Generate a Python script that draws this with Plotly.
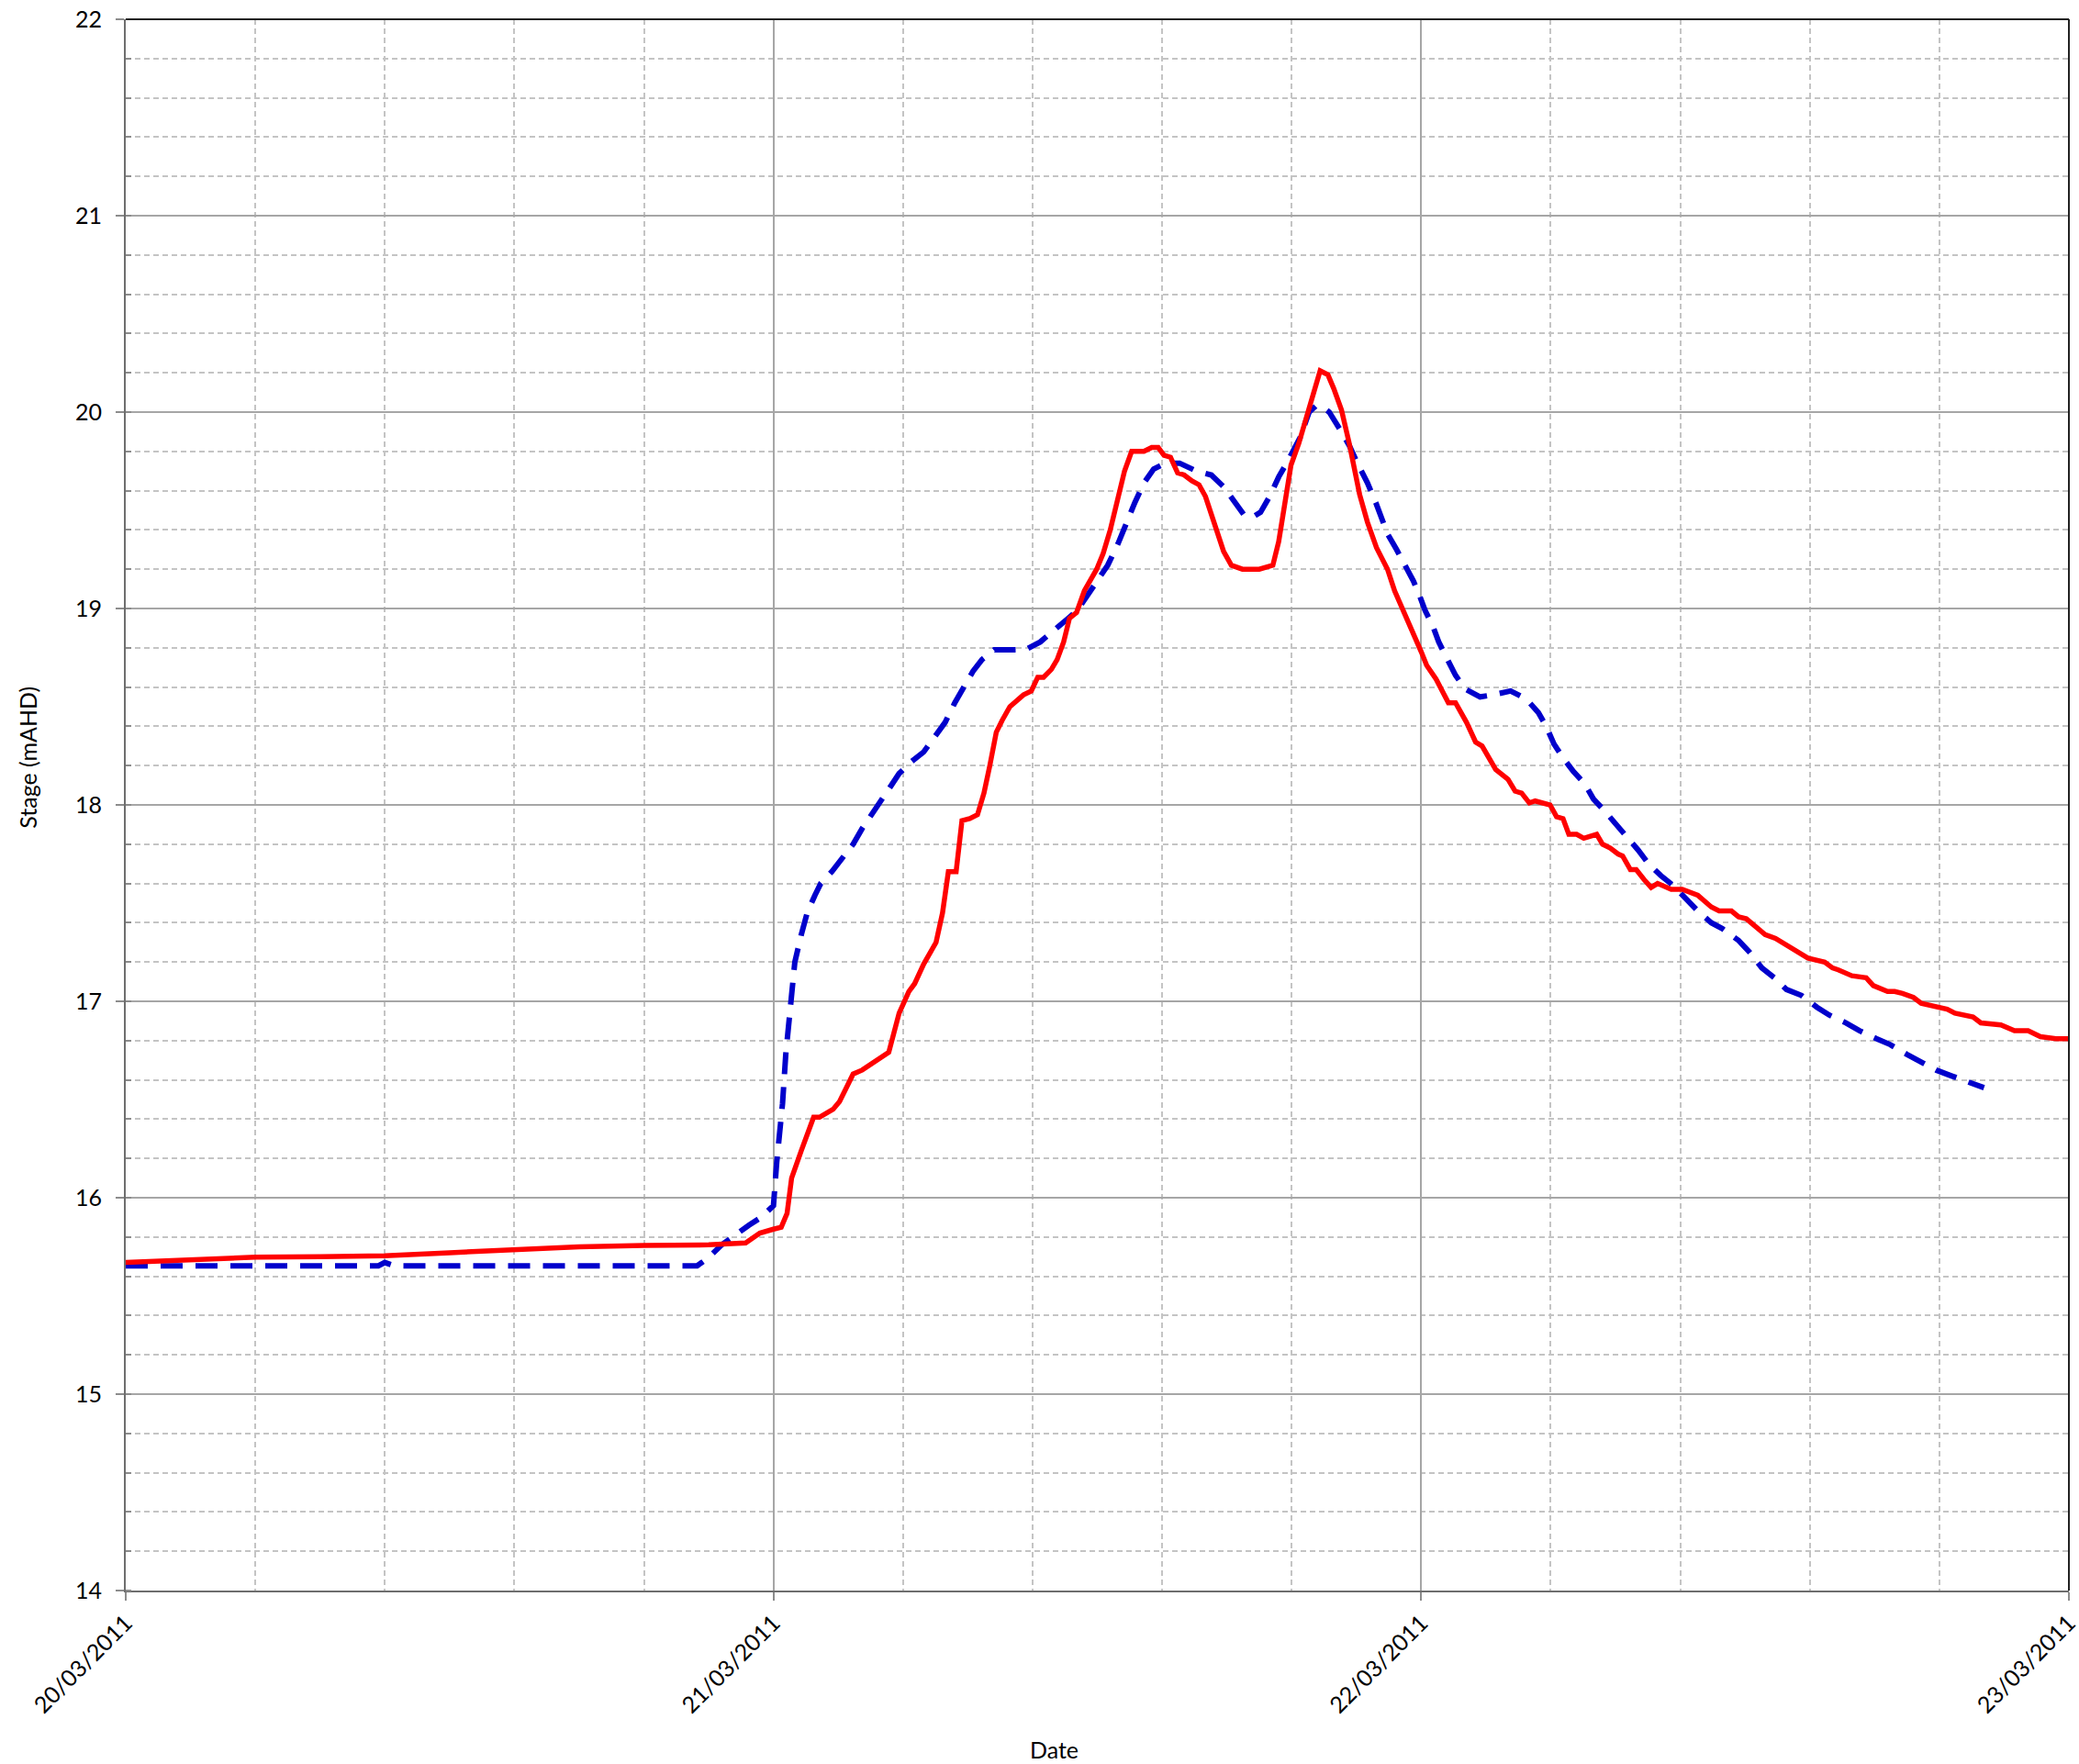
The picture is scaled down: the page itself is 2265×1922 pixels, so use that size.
import pandas as pd
import plotly.graph_objects as go

# Observed stage (red, solid) - day offset from 20/03/2011 and stage (mAHD)
red_days = [0.0, 0.1, 0.2, 0.3, 0.4, 0.5, 0.6, 0.7, 0.8, 0.9, 0.957, 0.979, 1.0, 1.012, 1.021, 1.028,
            1.043, 1.062, 1.071, 1.092, 1.102, 1.123, 1.137, 1.161, 1.178, 1.194, 1.209, 1.218, 1.232,
            1.251, 1.261, 1.270, 1.282, 1.291, 1.303, 1.315, 1.325, 1.334, 1.344, 1.353, 1.365, 1.386,
            1.398, 1.408, 1.417, 1.429, 1.438, 1.448, 1.457, 1.468, 1.480, 1.499, 1.509, 1.520, 1.532,
            1.542, 1.553, 1.572, 1.584, 1.594, 1.603, 1.613, 1.624, 1.634, 1.646, 1.657, 1.667, 1.676,
            1.686, 1.695, 1.707, 1.724, 1.750, 1.759, 1.771, 1.780, 1.790, 1.799, 1.811, 1.825, 1.837,
            1.844, 1.856, 1.865, 1.877, 1.889, 1.905, 1.917, 1.931, 1.948, 1.959, 1.974, 1.988, 2.0,
            2.0085, 2.023, 2.042, 2.053, 2.070, 2.084, 2.094, 2.103, 2.115, 2.134, 2.145, 2.155, 2.167,
            2.176, 2.190, 2.199, 2.209, 2.219, 2.228, 2.240, 2.251, 2.271, 2.280, 2.292, 2.304, 2.311,
            2.323, 2.332, 2.344, 2.355, 2.365, 2.386, 2.403, 2.427, 2.448, 2.460, 2.479, 2.490, 2.502,
            2.531, 2.547, 2.568, 2.583, 2.597, 2.623, 2.635, 2.644, 2.665, 2.687, 2.698, 2.720, 2.731,
            2.743, 2.760, 2.772, 2.795, 2.812, 2.824, 2.852, 2.864, 2.895, 2.916, 2.937, 2.956, 2.980, 3.0]
red_stage = [15.67, 15.685, 15.697, 15.70, 15.705, 15.72, 15.736, 15.75, 15.757, 15.76, 15.77, 15.82, 15.84,
             15.85, 15.92, 16.10, 16.24, 16.41, 16.41, 16.45, 16.49, 16.63, 16.65, 16.70, 16.74, 16.94,
             17.05, 17.09, 17.19, 17.30, 17.45, 17.66, 17.66, 17.92, 17.93, 17.95, 18.06, 18.20, 18.37,
             18.43, 18.50, 18.56, 18.58, 18.65, 18.65, 18.69, 18.74, 18.83, 18.95, 18.98, 19.09, 19.20,
             19.28, 19.40, 19.56, 19.70, 19.80, 19.80, 19.82, 19.82, 19.78, 19.77, 19.69, 19.68, 19.65,
             19.63, 19.57, 19.48, 19.37, 19.29, 19.22, 19.20, 19.20, 19.21, 19.22, 19.34, 19.54, 19.73,
             19.84, 20.00, 20.14, 20.21, 20.19, 20.12, 20.01, 19.84, 19.58, 19.44, 19.31, 19.20, 19.09,
             18.98, 18.88, 18.78, 18.71, 18.64, 18.52, 18.52, 18.42, 18.32, 18.30, 18.25, 18.18, 18.13,
             18.07, 18.06, 18.01, 18.02, 18.01, 18.0, 17.94, 17.93, 17.85, 17.85, 17.83, 17.85, 17.80,
             17.78, 17.75, 17.74, 17.67, 17.67, 17.62, 17.58, 17.60, 17.57, 17.57, 17.54, 17.48, 17.46,
             17.46, 17.43, 17.42, 17.34, 17.32, 17.28, 17.25, 17.22, 17.20, 17.17, 17.16, 17.13, 17.12,
             17.08, 17.05, 17.05, 17.04, 17.02, 16.99, 16.97, 16.96, 16.94, 16.92, 16.89, 16.88, 16.85,
             16.85, 16.82, 16.81, 16.81]

# Modelled stage (blue, dashed)
blue_days = [0.0, 0.39, 0.40, 0.415, 0.882, 0.898, 0.920, 0.936, 0.962, 0.981, 1.0, 1.005, 1.0095, 1.014,
             1.019, 1.024, 1.028, 1.033, 1.043, 1.052, 1.064, 1.073, 1.090, 1.107, 1.123, 1.137, 1.152,
             1.166, 1.180, 1.194, 1.213, 1.232, 1.251, 1.265, 1.280, 1.294, 1.308, 1.322, 1.341, 1.360,
             1.389, 1.412, 1.431, 1.455, 1.469, 1.483, 1.502, 1.516, 1.532, 1.546, 1.558, 1.572, 1.587,
             1.605, 1.627, 1.653, 1.676, 1.695, 1.712, 1.728, 1.742, 1.752, 1.766, 1.780, 1.794, 1.813,
             1.827, 1.837, 1.846, 1.858, 1.875, 1.889, 1.903, 1.917, 1.931, 1.948, 1.962, 1.974, 1.988,
             1.997, 2.006, 2.018, 2.027, 2.039, 2.053, 2.068, 2.091, 2.110, 2.138, 2.162, 2.181, 2.193,
             2.205, 2.219, 2.235, 2.252, 2.266, 2.283, 2.301, 2.318, 2.335, 2.351, 2.370, 2.389, 2.408,
             2.427, 2.448, 2.465, 2.490, 2.507, 2.526, 2.545, 2.564, 2.587, 2.611, 2.630, 2.656, 2.677,
             2.703, 2.724, 2.750, 2.772, 2.795, 2.819, 2.847, 2.869]
blue_stage = [15.653, 15.653, 15.67, 15.653, 15.653, 15.69, 15.76, 15.80, 15.86, 15.90, 15.96, 16.18, 16.31,
              16.48, 16.73, 16.91, 17.09, 17.20, 17.34, 17.45, 17.54, 17.60, 17.66, 17.73, 17.80, 17.88,
              17.95, 18.02, 18.09, 18.16, 18.22, 18.27, 18.35, 18.42, 18.52, 18.60, 18.68, 18.74, 18.79,
              18.79, 18.79, 18.83, 18.88, 18.95, 18.99, 19.06, 19.16, 19.22, 19.33, 19.45, 19.54, 19.64,
              19.71, 19.74, 19.74, 19.70, 19.68, 19.62, 19.54, 19.47, 19.47, 19.49, 19.57, 19.67, 19.75,
              19.87, 20.00, 20.03, 20.03, 20.00, 19.91, 19.83, 19.73, 19.64, 19.53, 19.38, 19.30, 19.23,
              19.14, 19.07, 18.99, 18.91, 18.83, 18.75, 18.66, 18.59, 18.55, 18.56, 18.58, 18.54, 18.47,
              18.40, 18.31, 18.24, 18.17, 18.11, 18.03, 17.97, 17.90, 17.84, 17.77, 17.70, 17.64, 17.59,
              17.52, 17.46, 17.40, 17.37, 17.31, 17.25, 17.17, 17.12, 17.06, 17.03, 16.97, 16.93, 16.89,
              16.85, 16.81, 16.78, 16.73, 16.69, 16.65, 16.62, 16.59, 16.56]

start = pd.Timestamp("2011-03-20")
red_x = start + pd.to_timedelta(red_days, unit="D")
blue_x = start + pd.to_timedelta(blue_days, unit="D")

FONT = "Lato, 'Open Sans', sans-serif"

fig = go.Figure()
fig.add_trace(go.Scatter(x=blue_x, y=blue_stage, mode="lines",
                         line=dict(color="#0000cc", width=6, dash="24px,14px"), showlegend=False))
fig.add_trace(go.Scatter(x=red_x, y=red_stage, mode="lines",
                         line=dict(color="#ff0000", width=5.5), showlegend=False))

fig.update_layout(
    width=2265, height=1922,
    margin=dict(l=137, r=11, t=21, b=189),
    paper_bgcolor="white", plot_bgcolor="white",
    font=dict(family=FONT, size=25, color="black"),
    xaxis=dict(
        type="date",
        range=["2011-03-20", "2011-03-23"],
        tickvals=["2011-03-20", "2011-03-21", "2011-03-22", "2011-03-23"],
        tickformat="%d/%m/%Y",
        tickangle=-45,
        ticklabeloverflow="allow",
        automargin=False,
        ticks="outside", ticklen=9, tickcolor="#8c8c8c", tickwidth=2,
        showline=True, linecolor="#6e6e6e", linewidth=2,
        showgrid=True, gridcolor="#a6a6a6", gridwidth=1.5,
        zeroline=False,
        minor=dict(dtick=17280000, tick0="2011-03-20", showgrid=True, gridcolor="#c4c4c4",
                   griddash="6px,4px", gridwidth=1.5, ticks=""),
        tickfont=dict(family=FONT, size=25, color="black"),
    ),
    yaxis=dict(
        range=[14, 22], dtick=1, tick0=14,
        automargin=False,
        ticks="outside", ticklen=9, tickcolor="#8c8c8c", tickwidth=2,
        showline=True, linecolor="#6e6e6e", linewidth=2,
        showgrid=True, gridcolor="#a6a6a6", gridwidth=1.5,
        zeroline=False,
        minor=dict(dtick=0.2, showgrid=True, gridcolor="#c4c4c4", griddash="6px,4px",
                   gridwidth=1.5, ticks="inside", ticklen=6, tickcolor="#8c8c8c"),
        tickfont=dict(family=FONT, size=25, color="black"),
        ticklabelstandoff=10,
    ),
    shapes=[
        dict(type="line", xref="paper", yref="paper", x0=0, x1=1, y0=1, y1=1,
             line=dict(color="#222222", width=2)),
        dict(type="line", xref="paper", yref="paper", x0=1, x1=1, y0=0, y1=1,
             line=dict(color="#222222", width=2)),
    ],
    annotations=[
        dict(text="Stage (mAHD)", xref="paper", yref="paper", x=-0.0505, y=0.530,
             textangle=-90, showarrow=False, font=dict(family=FONT, size=25, color="black"),
             xanchor="center", yanchor="middle"),
        dict(text="Date", xref="paper", yref="paper", x=0.478, y=-0.101,
             showarrow=False, font=dict(family=FONT, size=25, color="black"),
             xanchor="center", yanchor="middle"),
    ],
)

fig.write_html("out.html")
